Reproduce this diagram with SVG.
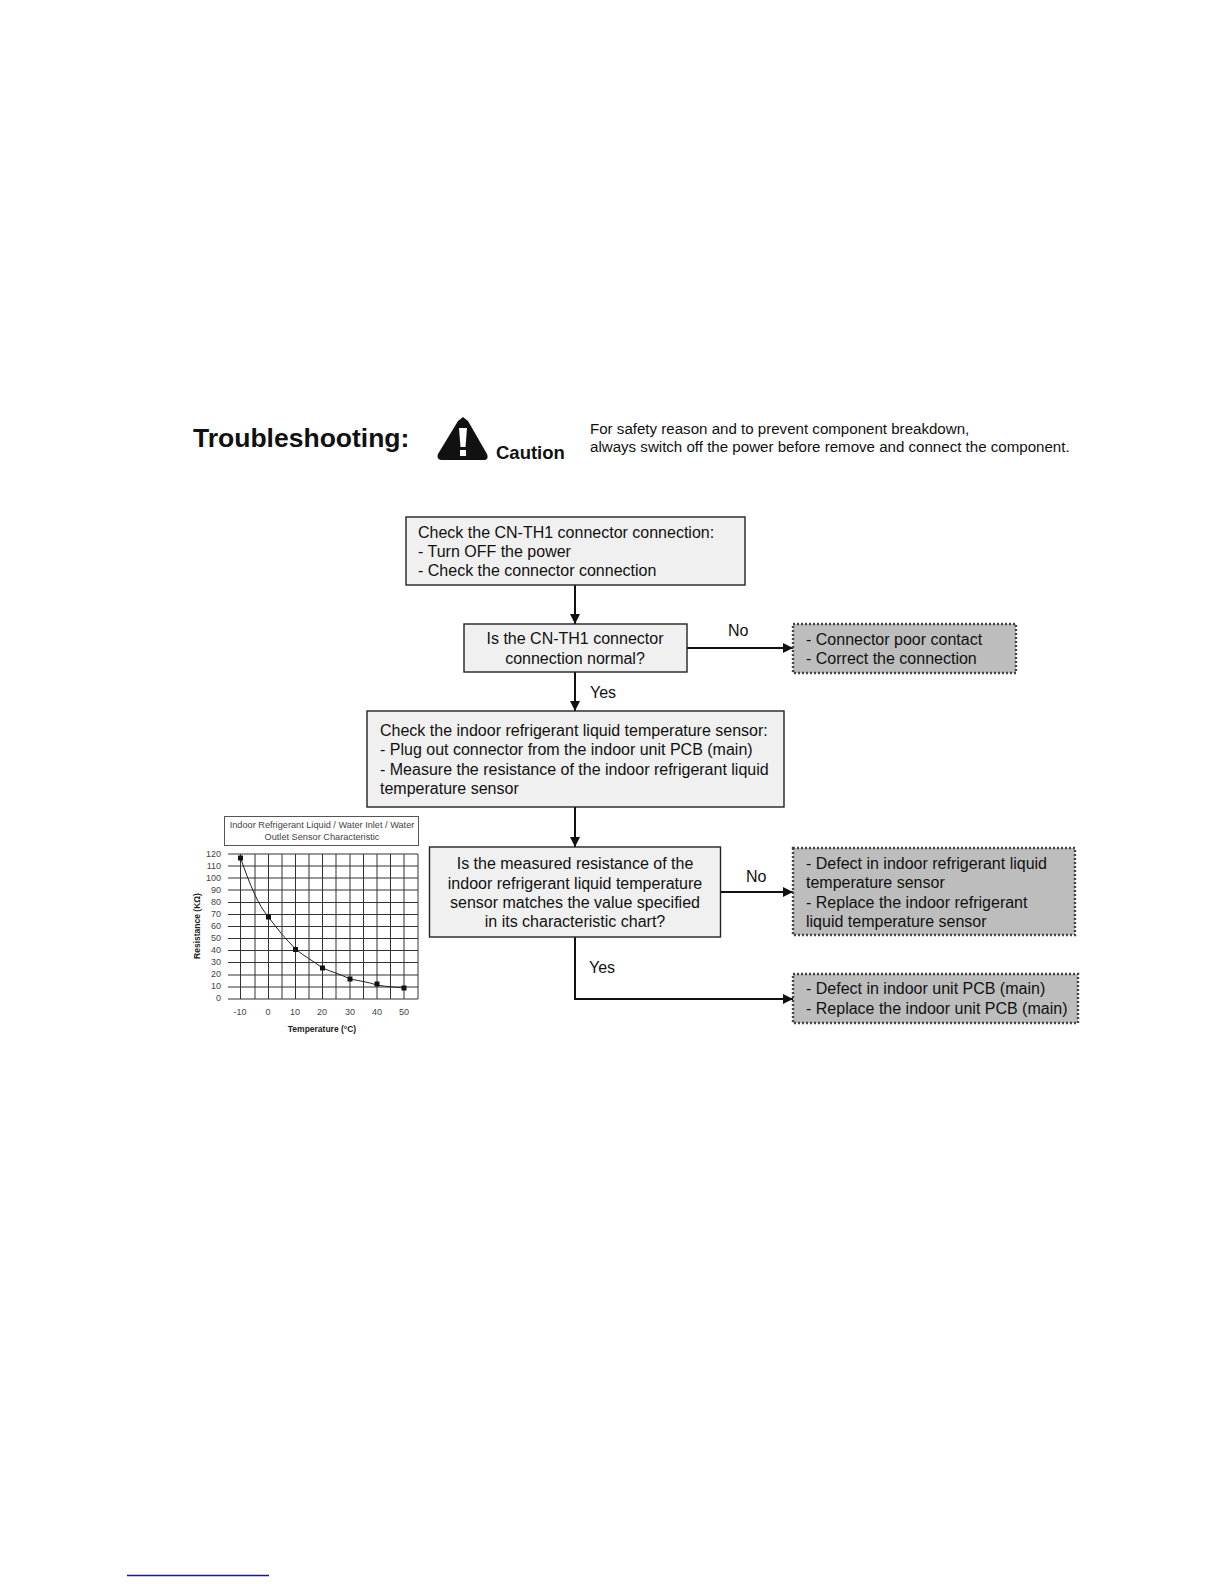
<svg xmlns="http://www.w3.org/2000/svg" width="1224" height="1584" viewBox="0 0 1224 1584">
<style>
text{font-family:"Liberation Sans",Arial,sans-serif;fill:#111}
.t{font-size:16px}
.m{text-anchor:middle}
.box{fill:#f0f0f0;stroke:#222;stroke-width:1.4}
.res{fill:#bdbdbd;stroke:#444;stroke-width:2.4;stroke-dasharray:2 2}
.c{fill:none;stroke:#111;stroke-width:2}
.g{stroke:#333;stroke-width:1;fill:none}
.s{font-size:9px;fill:#444}
.a{font-size:8.5px;fill:#222;font-weight:bold}
.ct{font-size:9.200px;fill:#444}
</style>
<defs><marker id="ah" markerUnits="userSpaceOnUse" markerWidth="11" markerHeight="11" refX="10" refY="5" orient="auto"><path d="M0 0L10 5L0 10Z" fill="#111"/></marker></defs>
<rect width="1224" height="1584" fill="#fff"/>
<g id="header">
<text x="193" y="447" font-size="26.500px" font-weight="bold">Troubleshooting:</text>
<path d="M463 417L468 421L487 454Q489 459 485 460L441 460Q436 459 438 454L458 421Z" fill="#111"/>
<path d="M459 428H467L465.500 447H460.500Z" fill="#fff"/>
<rect x="460" y="450" width="6" height="6" fill="#fff"/>
<text x="496" y="459" font-size="18.500px" font-weight="bold">Caution</text>
<text x="590" y="434" font-size="15.100px">For safety reason and to prevent component breakdown,</text>
<text x="590" y="452" font-size="15.100px">always switch off the power before remove and connect the component.</text>
</g>
<g id="connectors">
<path class="c" d="M575 585V624" marker-end="url(#ah)"/>
<path class="c" d="M575 672V711" marker-end="url(#ah)"/>
<path class="c" d="M575 807V847" marker-end="url(#ah)"/>
<path class="c" d="M687 648H793" marker-end="url(#ah)"/>
<path class="c" d="M721 892H793" marker-end="url(#ah)"/>
<path class="c" d="M575 937V999H793" marker-end="url(#ah)"/>
<text class="t" x="728" y="636">No</text>
<text class="t" x="590" y="698">Yes</text>
<text class="t" x="746" y="882">No</text>
<text class="t" x="589" y="973">Yes</text>
</g>
<g id="n1"><rect class="box" x="406" y="517" width="339" height="68"/>
<text class="t" x="418" y="538">Check the CN-TH1 connector connection:</text>
<text class="t" x="418" y="557">- Turn OFF the power</text>
<text class="t" x="418" y="576">- Check the connector connection</text></g>
<g id="n2"><rect class="box" x="464" y="624" width="223" height="48"/>
<text class="t m" x="575" y="644">Is the CN-TH1 connector</text>
<text class="t m" x="575" y="664">connection normal?</text></g>
<g id="n3"><rect class="box" x="367" y="711" width="417" height="96"/>
<text class="t" x="380" y="736">Check the indoor refrigerant liquid temperature sensor:</text>
<text class="t" x="380" y="755">- Plug out connector from the indoor unit PCB (main)</text>
<text class="t" x="380" y="775">- Measure the resistance of the indoor refrigerant liquid</text>
<text class="t" x="380" y="794">temperature sensor</text></g>
<g id="n4"><rect class="box" x="429.500" y="847" width="291" height="90"/>
<text class="t m" x="575" y="869">Is the measured resistance of the</text>
<text class="t m" x="575" y="889">indoor refrigerant liquid temperature</text>
<text class="t m" x="575" y="908">sensor matches the value specified</text>
<text class="t m" x="575" y="927">in its characteristic chart?</text></g>
<g id="r1"><rect class="res" x="793" y="624" width="223" height="49"/>
<text class="t" x="806" y="645">- Connector poor contact</text>
<text class="t" x="806" y="664">- Correct the connection</text></g>
<g id="r2"><rect class="res" x="793" y="848" width="282" height="87"/>
<text class="t" x="806" y="869">- Defect in indoor refrigerant liquid</text>
<text class="t" x="806" y="888">temperature sensor</text>
<text class="t" x="806" y="908">- Replace the indoor refrigerant</text>
<text class="t" x="806" y="927">liquid temperature sensor</text></g>
<g id="r3"><rect class="res" x="793" y="974" width="285" height="49"/>
<text class="t" x="806" y="994">- Defect in indoor unit PCB (main)</text>
<text class="t" x="806" y="1014">- Replace the indoor unit PCB (main)</text></g>
<g id="chart">
<rect x="224.500" y="816.500" width="194" height="29" fill="#fff" stroke="#555"/>
<text class="ct m" x="322" y="828">Indoor Refrigerant Liquid / Water Inlet / Water</text>
<text class="ct m" x="322" y="840">Outlet Sensor Characteristic</text>
<path class="g" d="M228 854H418M228 866H418M228 878H418M228 890H418M228 902.500H418M228 914.500H418M228 926.500H418M228 938.500H418M228 950.500H418M228 962.500H418M228 975H418M228 987H418M228 999H418"/>
<path class="g" d="M240.500 854V999M255 854V999M268.500 854V999M282 854V999M295.500 854V999M309 854V999M322.500 854V999M336 854V999M350 854V999M363.500 854V999M377 854V999M390.500 854V999M404 854V999M418 854V999"/>
<path d="M240.500 858C250 885 258 905 268.500 917C278 930 285 938 295.500 949C305 957 312 960 322.500 968C332 972 340 974 350 979C360 981 368 982 377 985C388 987 395 987 404 988" fill="none" stroke="#222" stroke-width="1"/>
<g fill="#111"><rect x="238" y="855.500" width="5" height="5"/><rect x="266" y="914.500" width="5" height="5"/><rect x="293" y="947" width="5" height="5"/><rect x="320" y="965.500" width="5" height="5"/><rect x="347.500" y="976.500" width="5" height="5"/><rect x="374.500" y="981.500" width="5" height="5"/><rect x="401.500" y="985.500" width="5" height="5"/></g>
<g text-anchor="end">
<text class="s" x="221" y="857">120</text><text class="s" x="221" y="869">110</text><text class="s" x="221" y="881">100</text><text class="s" x="221" y="893">90</text><text class="s" x="221" y="905">80</text><text class="s" x="221" y="917">70</text><text class="s" x="221" y="929">60</text><text class="s" x="221" y="941">50</text><text class="s" x="221" y="953">40</text><text class="s" x="221" y="965">30</text><text class="s" x="221" y="977">20</text><text class="s" x="221" y="989">10</text><text class="s" x="221" y="1001">0</text>
</g>
<g text-anchor="middle">
<text class="s" x="240" y="1015">-10</text><text class="s" x="268" y="1015">0</text><text class="s" x="295" y="1015">10</text><text class="s" x="322" y="1015">20</text><text class="s" x="350" y="1015">30</text><text class="s" x="377" y="1015">40</text><text class="s" x="404" y="1015">50</text>
</g>
<text class="a m" x="322" y="1032">Temperature (°C)</text>
<text class="a m" transform="translate(199.500 926) rotate(-90)">Resistance (KΩ)</text>
</g>
<path id="footer-rule" d="M127 1575.500H269" stroke="#1a1a80" stroke-width="1.300" fill="none"/>
</svg>
